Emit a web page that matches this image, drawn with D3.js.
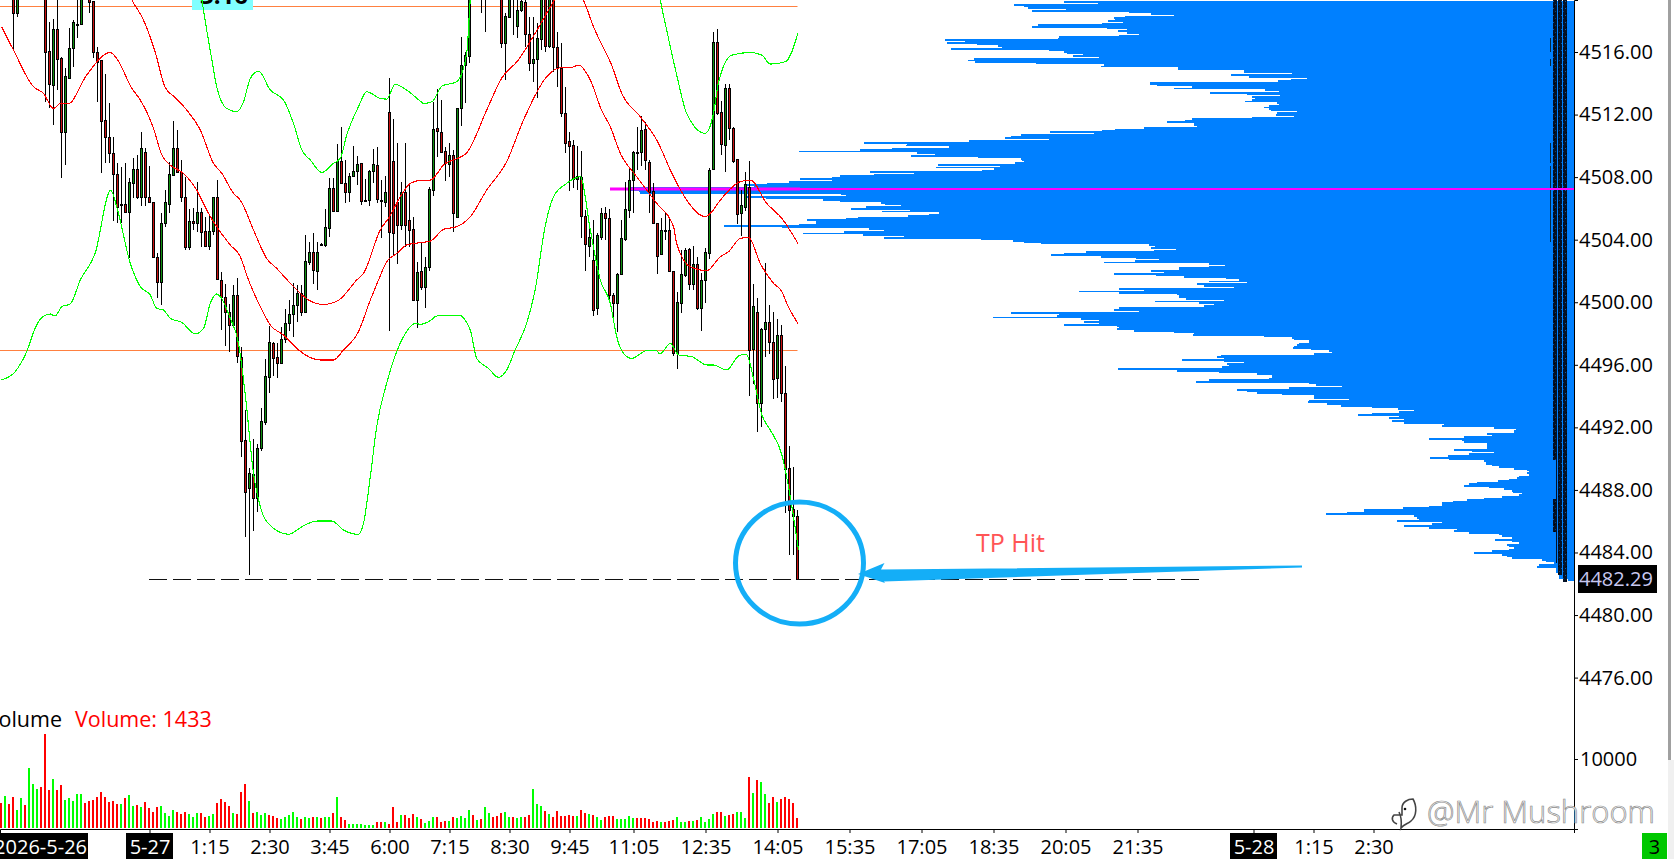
<!DOCTYPE html>
<html><head><meta charset="utf-8">
<script src="https://cdn.jsdelivr.net/npm/d3@7"></script>
<style>
html,body{margin:0;padding:0;background:#fff;overflow:hidden}
svg{display:block}
text{font-family:"Open Sans","Noto Sans",sans-serif}
</style></head><body><svg id="c" width="1674" height="859"></svg>
<script>
// ---- candle data (one entry per bar, prices above the window are estimates) ----
const opens=[4522.0,4521.5,4522.5,4520.0,4518.51,4521,4521,4521,4521,4521,
4521,4521,4516.06,4513.91,4517.45,4515.59,4510.90,4514.35,4516.23,4517.79,
4517.76,4521,4519.9,4519.26,4516.02,4515.48,4511.63,4510.54,4509.52,4508.17,
4506.26,4506.28,4505.75,4507.64,4508.49,4506.70,4509.62,4506.70,4506.41,4502.91,
4501.31,4505.04,4506.30,4508.13,4509.84,4508.35,4506.70,4503.55,4505.19,4505.08,
4505.75,4504.55,4503.62,4504.57,4506.70,4501.42,4500.31,4499.35,4498.52,4500.46,
4496.52,4491.19,4488.10,4489.02,4487.46,4490.66,4492.36,4495.24,4497.41,4496.48,
4496.09,4497.63,4498.65,4499.25,4499.80,4500.57,4499.35,4502.59,4503.23,4502.02,
4503.74,4503.66,4504.77,4507.28,4505.85,4509.01,4507.60,4507.07,4508.09,4508.41,
4508.88,4506.56,4506.53,4508.41,4508.75,4506.56,4506.43,4512.18,4509.01,4506.43,
4504.94,4507.02,4505.26,4504.66,4500.14,4502.02,4500.99,4502.27,4507.17,4511.12,
4510.86,4509.69,4508.81,4509.39,4505.47,4512.39,4515.16,4515.76,4521,4521,
4520.5,4520.5,4521,4521,4521,4520,4516.55,4518.25,4520.5,4517.66,
4518.68,4519.21,4517.13,4515.27,4515.53,4516.81,4520,4516.38,4520,4516.34,
4514.99,4512.12,4510.31,4510.05,4507.86,4508.03,4505.53,4503.59,4502.70,4499.61,
4504.19,4505.68,4505.36,4500.46,4499.93,4501.80,4504.04,4505.89,4507.79,4509.62,
4509.62,4511.05,4508.99,4507.11,4505.04,4503.08,4504.60,4504.62,4502.02,4496.73,
4499.97,4501.74,4503.38,4501.16,4502.42,4499.61,4501.42,4503.17,4508.52,4516.61,
4512.14,4510.05,4513.67,4511.12,4509.13,4505.68,4506.11,4507.34,4496.99,4499.40,
4493.54,4498.27,4498.71,4497.48,4495.13,4497.90,4494.17,4489.38,4486.76,4486.36];
const closes=[4521.5,4522.0,4522.0,4518.47,4520.0,4521.5,4521.5,4521.5,4521.5,4521.5,
4521.5,4516.02,4513.95,4517.45,4515.53,4510.90,4514.44,4516.23,4517.89,4517.79,
4520,4521.5,4519.21,4516.02,4515.38,4511.61,4510.54,4509.56,4508.17,4506.11,
4506.21,4505.79,4507.66,4508.49,4506.70,4509.84,4506.70,4506.39,4502.91,4501.31,
4505.04,4506.39,4508.20,4509.84,4508.30,4506.70,4503.55,4505.19,4505.04,4505.75,
4504.47,4503.62,4504.57,4506.70,4501.50,4500.31,4499.35,4498.52,4500.46,4496.58,
4491.15,4487.89,4489.06,4487.46,4490.66,4492.41,4495.28,4497.44,4496.45,4496.09,
4497.63,4498.65,4499.25,4499.80,4500.57,4499.35,4502.63,4503.23,4502.06,4503.19,
4503.70,4504.79,4507.28,4505.85,4509.01,4507.60,4507.07,4508.07,4508.37,4508.84,
4506.49,4506.51,4508.37,4508.84,4506.58,4506.51,4507.02,4504.47,4504.40,4504.94,
4507.07,4504.94,4504.62,4500.14,4501.95,4500.99,4502.27,4507.22,4511.05,4510.97,
4509.62,4508.88,4509.39,4505.72,4512.39,4515.16,4515.80,4520,4521.5,4521.5,
4520,4520,4521.5,4521.5,4521.5,4516.55,4518.30,4520,4520.2,4518.68,
4519.26,4517.13,4515.27,4515.53,4516.87,4520,4516.38,4520,4516.34,4515.06,
4512.12,4510.16,4510.01,4507.86,4508.07,4505.53,4503.70,4504.19,4499.50,4504.28,
4505.68,4505.36,4500.46,4499.93,4501.80,4504.08,4505.94,4507.79,4509.62,4509.52,
4511.01,4509.09,4507.07,4505.04,4502.98,4504.62,4504.55,4502.02,4496.77,4499.99,
4501.78,4503.34,4501.16,4502.42,4499.61,4501.42,4503.19,4508.45,4516.61,4512.12,
4510.09,4513.67,4511.12,4509.05,4505.62,4506.21,4507.56,4496.95,4499.76,4493.54,
4498.27,4498.71,4497.48,4495.07,4497.90,4494.17,4489.34,4486.72,4486.36,4482.29];
const highs=[4522.8,4522.8,4522.8,4520.6,4520.5,4522,4522,4522,4522,4522,
4522,4522,4517.93,4518.08,4519.32,4515.70,4514.95,4517.51,4518.04,4519.32,
4520.5,4522,4520.2,4519.26,4516.29,4515.48,4514.59,4512.71,4510.58,4508.88,
4508.67,4508.88,4507.92,4509.20,4509.41,4510.86,4509.84,4508.71,4506.43,4503.12,
4505.68,4507.17,4508.99,4511.59,4511.01,4509.09,4508.03,4505.94,4506.00,4507.66,
4506.00,4505.47,4505.57,4506.70,4507.81,4501.95,4501.16,4499.89,4501.10,4501.53,
4497.16,4493.11,4489.38,4491.26,4490.94,4493.22,4496.37,4498.48,4497.48,4497.37,
4498.44,4499.57,4500.14,4501.21,4501.10,4501.10,4504.30,4503.83,4504.40,4503.87,
4503.81,4505.94,4507.92,4507.92,4510.11,4511.22,4509.09,4508.24,4509.99,4509.37,
4508.92,4507.85,4508.45,4509.79,4509.90,4507.81,4508.07,4514.31,4511.69,4510.20,
4507.71,4510.16,4507.64,4505.47,4502.59,4503.76,4502.91,4507.39,4512.78,4513.63,
4512.93,4509.94,4510.20,4509.73,4512.39,4516.93,4516.02,4520.5,4522,4522,
4521,4521,4522,4522,4522,4520.5,4518.47,4520.5,4521,4519.32,
4520,4520,4518.25,4518.21,4517.83,4520.5,4520.5,4520.5,4520.5,4517.30,
4516.55,4513.74,4510.86,4510.37,4510.01,4509.67,4505.89,4504.68,4505.26,4504.40,
4506.00,4506.11,4505.94,4500.57,4501.85,4505.26,4507.71,4508.60,4509.67,4511.22,
4511.93,4511.54,4509.09,4507.60,4505.04,4505.36,4505.72,4505.47,4502.02,4500.63,
4503.34,4503.44,4503.44,4503.61,4502.91,4501.85,4503.44,4508.56,4517.25,4517.47,
4512.86,4513.93,4513.93,4511.22,4509.13,4507.17,4508.35,4509.03,4501.14,4500.25,
4498.33,4502.53,4499.82,4499.35,4498.91,4498.54,4495.92,4490.83,4489.44,4486.72];
const lows=[4520.8,4520.8,4520.8,4516.12,4518.25,4521,4521,4521,4521,4521,
4521,4512.82,4512.39,4511.33,4513.57,4507.92,4508.77,4514.31,4515.06,4516.91,
4517.72,4521,4518.51,4515.59,4512.82,4508.24,4508.88,4508.88,4505.21,4505.08,
4505.08,4505.68,4502.80,4506.64,4506.62,4506.17,4506.17,4506.32,4502.91,4500.25,
4499.82,4504.83,4505.68,4508.13,4508.24,4506.39,4503.34,4503.34,4504.62,4504.51,
4503.55,4503.55,4503.34,4504.30,4501.42,4498.22,4497.22,4496.84,4498.33,4496.13,
4490.08,4485.01,4482.54,4485.40,4486.61,4490.51,4492.15,4494.22,4495.28,4495.18,
4496.09,4497.41,4498.18,4497.80,4498.76,4499.14,4499.35,4502.38,4501.19,4500.78,
4503.66,4503.55,4504.19,4505.79,4505.79,4507.60,4506.36,4506.43,4508.09,4507.49,
4506.21,4506.47,4506.17,4507.60,4506.32,4504.08,4506.11,4498.18,4503.02,4502.44,
4504.62,4503.55,4503.55,4500.14,4498.37,4500.78,4499.65,4502.02,4506.81,4509.30,
4509.58,4507.75,4508.03,4504.47,4505.47,4511.27,4512.76,4515.31,4521,4521,
4518.51,4517.30,4521,4521,4521,4516.23,4514.21,4518.15,4517.08,4516.87,
4518.57,4516.34,4514.78,4514.10,4513.03,4516.12,4516.02,4516.23,4514.74,4513.74,
4511.82,4509.52,4507.13,4507.28,4507.17,4504.13,4502.02,4502.91,4499.14,4499.20,
4503.98,4503.98,4500.21,4498.97,4498.12,4501.80,4503.93,4505.36,4505.68,4508.45,
4508.73,4508.45,4505.72,4505.04,4501.80,4503.02,4503.98,4501.95,4496.56,4495.71,
4499.33,4501.63,4500.78,4500.78,4499.50,4498.18,4499.97,4502.74,4508.45,4511.97,
4509.41,4508.35,4510.37,4508.88,4505.00,4504.23,4505.85,4494.00,4494.77,4491.72,
4492.04,4496.48,4496.69,4493.79,4493.85,4493.64,4486.50,4483.84,4483.84,4482.29];

// ---- volume ----
const volumes=[3570,4617,3475,4474,2618,4332,3332,8616,6331,5617,
5902,13471,5474,7045,5474,6188,4046,4332,3903,4903,
4903,3618,3903,4046,4474,5188,4474,3760,3903,3475,
3475,4332,4760,3189,3332,3046,3760,2904,2332,3046,
3189,2190,1761,2618,2332,2047,2332,2047,1618,2190,
2190,1618,1761,2047,3618,4189,3760,3189,2190,2047,
5188,6331,3903,2190,2332,1904,2190,1904,1761,1476,
1333,1618,1904,2332,1618,1333,1618,1476,1618,1618,
1476,1618,1618,2190,4474,1618,1190,619,619,619,
619,476,476,476,904,904,904,619,3046,904,
1904,1904,1476,2047,1618,
1333,762,1047,1618,1618,904,1047,1047,1618,1476,
1761,1476,2618,1904,1190,1333,3046,2190,1618,1761,
2190,2332,1618,1618,1476,1618,1618,1904,5617,3475,
3189,2475,2047,1618,2475,1761,1761,1904,1761,1761,
2618,2190,2047,1904,1618,1190,1618,1761,1761,1333,
1333,1333,1761,1476,1476,1476,1476,1333,904,1047,
904,904,1047,1190,1618,904,904,1047,1047,1190,
1618,904,1333,2047,2332,2332,1761,1904,2047,2332,
2332,1476,7330,5046,6902,6616,4903,3618,4474,3760,
4189,4474,4189,3618,1433];
const volumeDirs=("rgrrggrggg"+"rrrgrrgggg"+"grrrrrrrrr"+"grggrgrrrr"+"ggggrrrggg"+"rrggrrrrgr"+"rrgrgggrrr"+"gggggrggrg"+"rggrgrrggg"+"ggggrrgrrr"+"grrrg"
+"rgggrrrgrg"+"gggrgrggrr"+"rggrggrrgg"+"grgrrrrrrg"+"rrgrggrrrg"+"ggggrrrrrr"+"grrrgggrgr"+"ggggrrgrrg"+"ggrgrggrrgrrrrr").split("");

// ---- studies: [bar index, price] readings ----
const redUpperBars=[30.5,32.6,35.5,38.4,40.9,43.4,46.3,49.7,53,55.1,58,59.7,63,66.3,68.8,73,76.8,80.5,84.3,88.8,90.5,94.7,97,99.7,102.2,104.7,107.2,110.5,116.3,121.3,125,129.2,133.4,138,140.5,143.8,145.5,148,153,154.7,159.7,163.8,168,171.3,175.9,177.2,179.7,184.7,187.2,191.3,195.1,199.1];
const redUpperPrices=[4520.39,4519.32,4518.04,4516.02,4513.74,4513.10,4512.29,4511.01,4508.88,4508.24,4506.96,4506.53,4504.62,4502.80,4502.16,4501.00,4500.14,4499.86,4500.14,4501.42,4501.85,4504.62,4505.47,4506.75,4507.60,4507.79,4507.81,4508.77,4509.56,4512.29,4514.31,4515.48,4517.19,4519.21,4520.17,4520.17,4519.32,4517.62,4514.85,4513.57,4511.86,4510.37,4508.03,4506.53,4505.47,4505.68,4506.53,4507.71,4507.81,4506.32,4505.36,4503.76];
const redMidBars=[0,3,8,10.5,13,14.7,16.75,21.3,27.2,28.8,32.6,34.7,38,40.1,42.2,45.5,48.8,51.75,53.8,57.2,59.7,61.75,64.7,67.2,70.5,74.25,76.75,79.7,83,85.5,89.25,92.2,94.25,96.3,98.8,101.3,104.7,107.2,110.5,113.8,117.2,121.3,126.3,130.5,136.3,139.7,142.2,144.25,147.2,150,152.2,154.7,158.8,163.8,168,168.8,172.2,176.3,179.7,181.75,184.7,186.75,189.7,193,195.1,196.3,199.1];
const redMidPrices=[4517.62,4516.12,4513.78,4513.35,4512.39,4512.71,4512.71,4514.53,4515.97,4515.59,4513.67,4512.93,4511.12,4509.41,4508.77,4508.24,4507.17,4505.68,4504.83,4503.66,4502.91,4501.42,4499.72,4498.54,4497.90,4496.95,4496.52,4496.31,4496.31,4496.95,4498.12,4500.14,4501.42,4502.59,4503.12,4503.66,4503.81,4503.91,4504.66,4504.83,4505.47,4507.17,4508.99,4511.65,4514.42,4514.99,4514.99,4515.16,4514.21,4512.29,4511.22,4509.52,4508.03,4506.32,4504.83,4503.76,4502.27,4502.02,4502.91,4503.23,4504.08,4504.15,4502.48,4501.21,4500.67,4499.93,4498.65];
const greenUpperBars=[49.7,50.5,51.3,52.6,53.8,56.3,58.8,60.5,62.2,64.25,67.2,70.5,73,75.1,77.2,80.1,83,84.7,86.3,89.25,91.3,94.7,96.3,98.4,101.3,104.7,105.5,107.6,110.1,113.8,116.3,117.2,117.6,164.25,164.7,166.3,168.8,171.3,175.9,178,179.2,182.6,187.2,190.1,192.2,196,199.1];
const greenUpperPrices=[4519.96,4518.68,4517.40,4515.48,4513.78,4512.39,4512.18,4512.82,4514.31,4514.78,4513.57,4512.93,4511.43,4509.73,4509.09,4508.30,4508.88,4509.20,4510.69,4512.50,4513.46,4513.03,4512.99,4513.93,4513.57,4512.86,4512.71,4512.82,4513.82,4514.10,4515.91,4519.32,4519.96,4519.96,4519.32,4517.40,4514.53,4512.07,4510.80,4512.07,4513.99,4515.80,4515.97,4515.80,4515.23,4515.38,4517.19];
const greenLowerBars=[0,3.4,6.3,8.4,10.1,12.2,13.4,15.1,17.2,19.7,23.4,27.3,28.8,32.2,34.7,37.2,38.8,40.5,42.2,45.1,48.4,50.5,52.2,53.8,54.7,57.2,59.25,61,63,64.7,66.3,71.75,75.5,78.8,82.6,85.5,89.25,90.5,92.2,93.8,96.3,100.5,103.4,104.7,107.2,108.8,114.25,117.2,118.8,121.75,124.25,126.3,128.4,131.3,133.4,135.9,138,141.3,144.7,147.2,149.7,152.2,153.8,155.5,157.6,161.25,163.75,164.6,167.2,169.25,172.6,176.3,178,181.3,184.25,186.2,188,190.1,192.2,195.1,196.75,199.25];
const greenLowerPrices=[4495.03,4495.56,4496.84,4498.33,4499.03,4499.25,4499.12,4499.72,4499.89,4501.42,4503.12,4507.17,4506.11,4502.48,4501.00,4500.46,4499.61,4499.50,4498.97,4498.71,4497.97,4498.33,4499.93,4500.53,4500.36,4498.97,4497.37,4493.96,4489.06,4486.93,4485.97,4485.16,4485.71,4486.01,4486.01,4485.44,4485.16,4485.86,4488.85,4492.05,4494.82,4497.80,4498.65,4498.59,4498.82,4499.12,4499.18,4498.22,4496.41,4495.77,4495.20,4495.67,4496.95,4498.65,4500.78,4504.83,4506.75,4507.60,4508.03,4504.62,4501.42,4499.93,4497.80,4496.73,4496.41,4496.90,4496.90,4496.69,4497.37,4496.63,4496.52,4495.99,4495.99,4495.67,4496.56,4496.69,4495.13,4492.79,4491.83,4490.23,4488.21,4484.16];

// ---- volume profile, one value per price row, in runs between read price anchors ----
const profileRunA=[509,475,559,549,545,507,541,444,422,399,448,459,458,465,450,471,535,541,466,446,455,446,434,454,514,515,628,608,626,596,575,571,622,524,509,506,490,500,474,599,605,598,537,469,472,395,395,329,329,281,342,324,266,282,295,423,423,416,381,399,308,294,363,326,293,321,318,321,328,296,294,304,309,304,302,276,296,297,279,321,381,388,406,379,379,376,429,458,471,523,479,552,562,568,524,604,709,666,667,624,681,713,774,656,638,662,595,552,551,549,558,635,573,637,579,591,703,659,699,733,741,773,741,784,806,826,819];
const profileRunARange=[4519.26,4507.45];
const profileRunB=[942,942,934,933,732,727,826,807,750,733,692,688,672,707,722,663,691,634,644,665,715,727,766,757,757,774,849,791,704,689,729,770,710,669,689,592,560,549,532,424,418,422,397,419,487,509,522,472,437,414,438,469,364,348,364,394,394,422,409,459,417,389,347,334,364,326,376,369,339,454,429,494,454,396,394,394,387,349];
const profileRunBRange=[4507.34,4500.18];
const profileRunC=[418,374,359,369,454,454,459,434,562,514,516,580,492,474,489,474,509,456,454,456,439,399,379,380,309,281,279,264,264,274,276,279,280,262,244,241,259,352,356,349,391,349,329,346,344,351,374];
const profileRunCRange=[4500.10,4495.82];
const profileRunD=[455,396,354,316,301,301,304,364,377,264,257,231,284,336,326,316,291,259,259,224,264,265,246,232,201,175,159,174,201,215,174,184,169,181,169,129,131,79,57,59,59,86,81,109,144,111,109,86,86,86,86,119,101,79,104,125,143,124,89,87,87,81,74,59,46,44,46,44,54,56,64,75,96,104,109,84,69,61,60,51,54,71,89,106,120,131,131,144,170,209,209,226,247];
const profileRunDRange=[4495.77,4486.50];
const profileRunE=[159,156,154,176,131,141,169,144,116,119,104,74,71,61,78,61,54,66,64,59,64,81,99,71,66,61,31,27,19,34,36,17,17,17,14,14,14,14,5];
const profileRunERange=[4486.40,4482.30];

// ---- levels and axis labels ----
const orangeLevels=[4518.92,4496.93];
const pocPrice=4507.26;
const targetPrice=4482.29;
const priceTicks=[4516,4512,4508,4504,4500,4496,4492,4488,4484,4480,4476];
const volumeTicks=[10000];
const timeTickBars=[37,52,67,82,97,112,127,142,158,176,194,212,230,248,266,284,313,328,343];
const timeTickLabels=["5-27","1:15","2:30","3:45","6:00","7:15","8:30","9:45","11:05","12:35","14:05","15:35","17:05","18:35","20:05","21:35","5-28","1:15","2:30"];
const dateBars=[37,313];

// ---- scales ----
const plotRight=1574, plotBottom=829;
const x=d3.scaleLinear([-0.375,393.125],[0,plotRight]);
const y=d3.scaleLinear([4519.325,4466.32],[0,plotBottom]);
const yVol=d3.scaleLinear([0,10000],[plotBottom,759]);
const xProfile=d3.scaleLinear([0,1000],[plotRight-1,plotRight-1001]);

const svg=d3.select("#c");
const defs=svg.append("defs");
const pat=defs.append("pattern").attr("id","dense").attr("patternUnits","userSpaceOnUse").attr("width",4).attr("height",7);
pat.append("rect").attr("width",4).attr("height",7).attr("fill","#041226");
pat.append("rect").attr("x",1).attr("y",1).attr("width",1).attr("height",1).attr("fill","#0b5aa8");
pat.append("rect").attr("x",3).attr("y",4).attr("width",1).attr("height",1).attr("fill","#0a3f78");
pat.append("rect").attr("x",2).attr("y",6).attr("width",1).attr("height",1).attr("fill","#000");

// ---- profile ----
function drawProfile(rows,range){
  const step=(range[0]-range[1])/(rows.length-1);
  const h=y(4500-step)-y(4500)+0.3;
  svg.append("g").attr("fill","#0080ff").attr("shape-rendering","crispEdges").selectAll("rect").data(rows).join("rect")
   .attr("x",d=>xProfile(d)).attr("width",d=>xProfile(0)-xProfile(d)+1)
   .attr("y",(d,i)=>y(range[0]-i*step)).attr("height",h);
}
[[profileRunA,profileRunARange],[profileRunB,profileRunBRange],[profileRunC,profileRunCRange],[profileRunD,profileRunDRange],[profileRunE,profileRunERange]]
  .forEach(r=>drawProfile(r[0],r[1]));

// compressed bars at the right of the profile
const denseCols=[[1553,4,0,460],[1556,1,460,499],[1553,4,499,532],[1556,1,532,563],[1558,4,0,575],[1563,4,0,582]];
svg.append("g").selectAll("rect").data(denseCols).join("rect")
  .attr("x",d=>d[0]).attr("width",d=>d[1]).attr("y",d=>d[2]).attr("height",d=>d[3]-d[2]).attr("fill","url(#dense)");
const denseTicks=[[38,52],[59,66],[143,163],[166,242]];
svg.append("g").selectAll("rect").data(denseTicks).join("rect")
  .attr("x",1550).attr("width",1).attr("y",d=>d[0]).attr("height",d=>d[1]-d[0]).attr("fill","#06283f");

// ---- orange levels ----
svg.append("g").selectAll("line").data(orangeLevels).join("line")
  .attr("x1",0).attr("x2",x(199)).attr("y1",d=>Math.round(y(d))+.5).attr("y2",d=>Math.round(y(d))+.5)
  .attr("stroke","#ff8040").attr("stroke-width",1);

// ---- magenta level ----
const py=Math.round(y(pocPrice));
svg.append("rect").attr("x",610).attr("y",py-1.5).attr("width",800-610).attr("height",3).attr("fill","#ff00ff");
svg.append("rect").attr("x",800).attr("y",py-1).attr("width",plotRight-800).attr("height",2).attr("fill","#ff00ff");

// ---- candles ----
const bars=d3.range(opens.length);
const gC=svg.append("g").attr("shape-rendering","crispEdges");
gC.selectAll("line").data(bars).join("line")
  .attr("x1",k=>x(k)).attr("x2",k=>x(k)).attr("y1",k=>Math.round(y(highs[k]))).attr("y2",k=>Math.round(y(lows[k])))
  .attr("stroke","#000").attr("stroke-width",1);
gC.selectAll("rect").data(bars).join("rect")
  .attr("x",k=>x(k)-1).attr("width",2)
  .attr("y",k=>Math.round(y(Math.max(opens[k],closes[k])))+.5)
  .attr("height",k=>Math.max(1,Math.round(y(Math.min(opens[k],closes[k])))-Math.round(y(Math.max(opens[k],closes[k])))))
  .attr("fill",k=>closes[k]>=opens[k]?"#109010":"#c81010")
  .attr("stroke","#000").attr("stroke-width",1);

// ---- cyan tag clipped by the window ----
svg.append("rect").attr("x",192).attr("y",0).attr("width",61).attr("height",10).attr("fill","#80ffff");
svg.append("text").attr("x",200).attr("y",4).attr("font-size",24).attr("font-weight",700).attr("fill","#000").text("3.16");

// ---- study lines ----
const lineGen=d3.line().x(d=>x(d[0])).y(d=>y(d[1])).curve(d3.curveMonotoneX);
[[redUpperBars,redUpperPrices,"#ff0000"],[redMidBars,redMidPrices,"#ff0000"],[greenUpperBars,greenUpperPrices,"#00ff00"],[greenLowerBars,greenLowerPrices,"#00ff00"]].forEach(s=>{
  svg.append("path").attr("d",lineGen(d3.zip(s[0],s[1]))).attr("fill","none").attr("stroke",s[2]).attr("stroke-width",1.1).attr("shape-rendering","crispEdges");
});

// ---- volume ----
const gV=svg.append("g").attr("shape-rendering","crispEdges");
gV.selectAll("rect").data(volumes).join("rect")
  .attr("x",(d,i)=>x(i)-1.5).attr("width",2).attr("y",d=>yVol(d)-1).attr("height",d=>yVol(0)-yVol(d))
  .attr("fill",(d,i)=>volumeDirs[i]==="g"?"#00ff00":"#ff0000");
svg.append("text").attr("x",62).attr("y",727).attr("text-anchor","end").attr("font-size",21.5).attr("fill","#000").text("Volume");
svg.append("text").attr("x",75).attr("y",727).attr("font-size",21.5).attr("fill","#ff0000").text("Volume: "+volumes[volumes.length-1]);

// ---- axes ----
const txtAxis=g=>g.selectAll("text").attr("font-size",20).attr("fill","#000").attr("font-family",'"Open Sans","Noto Sans",sans-serif');
// black date boxes go under the bottom axis labels
svg.append("g").selectAll("rect").data(dateBars).join("rect")
  .attr("x",k=>x(k)-23.5).attr("y",833).attr("width",47).attr("height",26).attr("fill","#000");
svg.append("rect").attr("x",0).attr("y",833).attr("width",88).attr("height",26).attr("fill","#000");
svg.append("text").attr("x",87).attr("y",854).attr("text-anchor","end").attr("font-size",20).attr("fill","#fff").text("2026-5-26");

const axR=svg.append("g").attr("transform",`translate(${plotRight},0)`)
  .call(d3.axisRight(y).tickValues(priceTicks).tickFormat(d3.format(".2f")).tickSize(4).tickPadding(1));
axR.select(".domain").attr("stroke","#000");
txtAxis(axR);
const axV=svg.append("g").attr("transform",`translate(${plotRight},0)`)
  .call(d3.axisRight(yVol).tickValues(volumeTicks).tickFormat(d3.format("d")).tickSize(4).tickPadding(2));
axV.select(".domain").remove();
txtAxis(axV);
const axB=svg.append("g").attr("transform",`translate(0,${plotBottom})`)
  .call(d3.axisBottom(x).tickValues(timeTickBars).tickFormat((d,i)=>timeTickLabels[i]).tickSize(4).tickPadding(3));
axB.select(".domain").attr("stroke","#000");
txtAxis(axB);
axB.selectAll("text").attr("y",null).attr("dy",null).attr("transform",null).attr("y",25)
   .attr("fill",d=>dateBars.includes(d)?"#fff":"#000");

// last price tag
svg.append("rect").attr("x",1578).attr("y",565).attr("width",79).attr("height",28).attr("fill","#000");
svg.append("text").attr("x",1579).attr("y",y(targetPrice)).attr("dy",".36em").attr("font-size",20).attr("fill","#c8c8f0").text(d3.format(".2f")(targetPrice));

// status box and window edge
svg.append("rect").attr("x",1642).attr("y",833).attr("width",25).attr("height",26).attr("fill","#00c800");
svg.append("text").attr("x",1654.5).attr("y",854).attr("text-anchor","middle").attr("font-size",20).attr("fill","#000").text("3");
svg.append("rect").attr("x",1668).attr("y",0).attr("width",3).attr("height",760).attr("fill","#a0a0a0");
svg.append("rect").attr("x",1668).attr("y",760).attr("width",6).attr("height",99).attr("fill","#f0f0f0");

// ---- annotations ----
const ty=Math.round(y(targetPrice))+.5;
svg.append("line").attr("x1",149).attr("x2",1200).attr("y1",ty).attr("y2",ty).attr("stroke","#111").attr("stroke-width",1).attr("stroke-dasharray","18 6");
svg.append("ellipse").attr("cx",799.5).attr("cy",563).attr("rx",64).attr("ry",61).attr("fill","none").attr("stroke","#14aef7").attr("stroke-width",5);
svg.append("path").attr("d","M858,574 L884.5,563 L881,569.5 L1302,565.5 L1302,567.5 L884,581.5 L885,583 Z").attr("fill","#14aef7");
svg.append("text").attr("x",976).attr("y",552).attr("font-size",25).attr("fill","#ff5555").text("TP Hit");

// ---- watermark ----
svg.append("path").attr("d","M1397,824 C1392,822 1391,818 1394,815 L1402,815 L1402,808 C1402,802 1408,799 1413,799 C1417,806 1417,816 1411,821 C1408,824 1404,824 1401,828 C1402,820 1401,816 1399,812")
  .attr("fill","#fff").attr("stroke","#444").attr("stroke-width",1.6);
svg.append("circle").attr("cx",1405).attr("cy",809).attr("r",1.3).attr("fill","#111");
svg.append("text").attr("x",1427).attr("y",823).attr("font-size",31).attr("font-weight",300).attr("fill","#fff").attr("stroke","#8a8a8a").attr("stroke-width",.7).text("@Mr Mushroom");
</script></body></html>
